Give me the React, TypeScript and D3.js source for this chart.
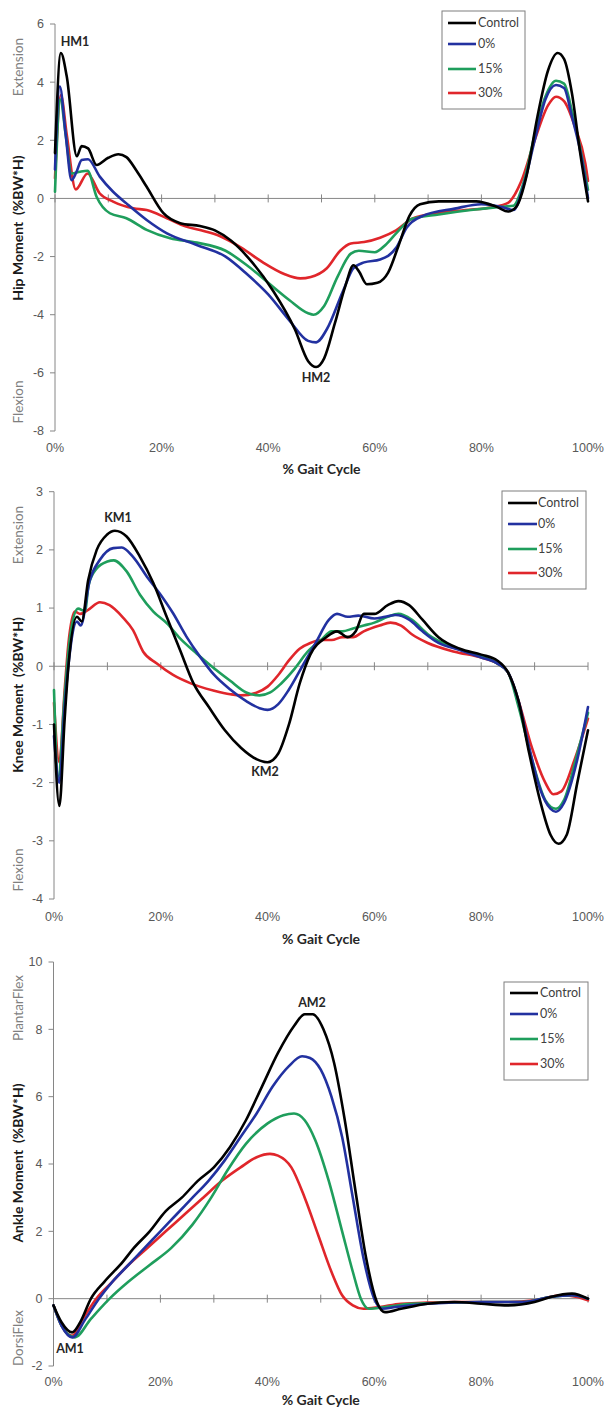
import React from "react";
import * as d3 from "d3";

type P = [number, number];

const seriesNames = ["Control", "0%", "15%", "30%"];
const seriesColors = ["#000000", "#2231a0", "#1f9e5c", "#e0262b"];
const xTickValues = [0, 10, 20, 30, 40, 50, 60, 70, 80, 90, 100];
const xLabelValues = [0, 20, 40, 60, 80, 100];
const hipTicks = [-8, -6, -4, -2, 0, 2, 4, 6];
const kneeTicks = [-4, -3, -2, -1, 0, 1, 2, 3];
const ankleTicks = [-2, 0, 2, 4, 6, 8, 10];

const hipControl: P[] = [[0,1.56],[1.1,5.0],[2.2,4.2],[4.1,1.45],[5.0,1.8],[6.2,1.72],[7.8,1.15],[10,1.4],[11.9,1.52],[13.4,1.42],[15.3,0.95],[17.2,0.4],[20.3,-0.5],[23.5,-0.85],[27.2,-0.95],[30,-1.1],[33,-1.45],[37,-2.2],[41,-3.2],[45,-4.5],[47.5,-5.6],[49,-5.8],[50.5,-5.5],[52.5,-4.3],[54.5,-3.0],[56,-2.3],[57,-2.5],[58.5,-2.95],[60.5,-2.9],[62.5,-2.55],[64.5,-1.6],[66.5,-0.6],[68.5,-0.2],[72,-0.1],[79,-0.1],[83,-0.3],[85,-0.45],[86.5,-0.3],[88.5,0.8],[90.5,2.8],[92.5,4.4],[94.3,5.0],[95.5,4.8],[97,3.6],[98.5,1.6],[100,-0.1]];
const hip0: P[] = [[0,1.0],[0.9,3.85],[2,2.2],[3.1,0.63],[4,0.9],[5.0,1.32],[6.2,1.35],[8.4,0.75],[10.9,0.23],[13.4,-0.17],[17.2,-0.74],[21,-1.2],[26.6,-1.6],[32,-2.0],[36,-2.6],[40,-3.3],[44,-4.2],[47.5,-4.9],[49,-4.95],[51,-4.5],[54,-3.2],[56,-2.4],[58,-2.2],[61,-2.1],[64,-1.7],[66,-1.0],[69,-0.6],[75,-0.35],[80,-0.2],[84,-0.3],[86,-0.4],[88,0.5],[90,2.0],[92,3.4],[94,3.9],[95.5,3.8],[97,2.8],[99,1.2],[100,0]];
const hip15: P[] = [[0,0.23],[1,3.4],[2,2.2],[3.1,0.86],[4.7,0.92],[6.1,0.95],[7.8,0.06],[10.3,-0.51],[13.4,-0.68],[17.2,-1.08],[21.6,-1.37],[26.6,-1.52],[32,-1.8],[36,-2.3],[40,-2.9],[44,-3.5],[47.5,-3.95],[48.5,-4.0],[50.5,-3.7],[53,-2.7],[55.5,-1.9],[57,-1.8],[60,-1.85],[62,-1.6],[64,-1.2],[67,-0.7],[72,-0.55],[78,-0.4],[83,-0.3],[86,-0.25],[88,0.6],[90,2.2],[92,3.5],[94,4.05],[95.5,3.95],[97,3.0],[99,1.3],[100,0.3]];
const hip30: P[] = [[0,0.7],[1.1,3.56],[2.2,2.2],[3.9,0.31],[6.1,0.86],[8.4,0.17],[10.9,-0.11],[14.7,-0.34],[17.2,-0.4],[21,-0.68],[24.6,-0.97],[27.2,-1.09],[31,-1.3],[35,-1.7],[39,-2.2],[43,-2.6],[46,-2.75],[48,-2.7],[51,-2.4],[53.5,-1.8],[55.5,-1.55],[58,-1.5],[61,-1.35],[64,-1.1],[67,-0.7],[72,-0.5],[77,-0.4],[82,-0.3],[85,-0.15],[87.5,0.6],[90,2.0],[92.5,3.2],[94,3.5],[95.5,3.35],[97.5,2.5],[99.5,1.2],[100,0.6]];

const kneeControl: P[] = [[0,-1.0],[1,-2.4],[2,-0.9],[2.7,0],[4.3,0.85],[5.2,0.77],[6.4,1.48],[8,2.0],[9.9,2.26],[11.4,2.33],[13.6,2.23],[16.1,1.88],[18.6,1.43],[21.1,0.85],[23.6,0.28],[26.1,-0.29],[29,-0.7],[32,-1.1],[35,-1.4],[38,-1.6],[40,-1.65],[42,-1.5],[44,-1.0],[46,-0.3],[48,0.2],[51,0.5],[53,0.6],[55,0.5],[56.5,0.6],[58,0.9],[60,0.9],[62.5,1.05],[64.5,1.12],[66.5,1.05],[69,0.8],[72,0.5],[76,0.3],[80,0.2],[83,0.1],[85,-0.1],[87,-0.6],[89,-1.5],[91,-2.3],[93,-2.9],[94.5,-3.05],[96,-2.9],[98,-2.0],[100,-1.1]];
const knee0: P[] = [[0,-1.2],[1,-2.0],[2,-0.7],[2.8,0.1],[4.3,0.77],[5,0.7],[6.7,1.48],[8.6,1.83],[11.1,2.03],[12.7,2.04],[14.8,1.88],[17.4,1.54],[19.8,1.25],[22.3,0.91],[24.8,0.51],[27.3,0.17],[30,-0.15],[33,-0.4],[36,-0.6],[38.5,-0.72],[40,-0.75],[42,-0.65],[44,-0.4],[46.5,0],[49,0.4],[51.5,0.8],[53,0.9],[55,0.85],[57,0.87],[60,0.82],[62,0.85],[64,0.88],[66.5,0.8],[69,0.6],[72,0.4],[76,0.28],[80,0.15],[83,0.05],[85,-0.1],[87,-0.6],[89,-1.4],[91,-2.1],[93,-2.45],[94,-2.5],[95.5,-2.35],[98,-1.6],[100,-0.7]];
const knee15: P[] = [[0,-0.41],[0.8,-1.9],[2,-0.5],[3,0.5],[4.5,0.99],[5.8,0.95],[6.5,1.4],[8,1.68],[10,1.8],[11.2,1.82],[13.6,1.63],[16.1,1.23],[18.6,0.94],[21.1,0.74],[23.6,0.48],[26.7,0.22],[29.5,0],[33,-0.25],[36,-0.45],[38.5,-0.5],[40.5,-0.45],[42.5,-0.3],[45,-0.05],[47.5,0.25],[50,0.45],[52,0.6],[54,0.6],[56,0.65],[58,0.7],[60,0.75],[62.5,0.85],[64.5,0.9],[67,0.8],[70,0.55],[74,0.35],[79,0.2],[83,0.05],[85,-0.1],[87,-0.7],[89.5,-1.6],[92,-2.3],[94,-2.45],[95.5,-2.3],[98,-1.5],[100,-0.8]];
const knee30: P[] = [[0,-0.63],[1,-1.65],[2,-0.4],[2.7,0.39],[3.9,0.94],[4.9,0.9],[6.4,0.97],[8.6,1.1],[10.4,1.05],[12.8,0.85],[14.8,0.62],[16.7,0.25],[19.2,0.05],[22.3,-0.15],[25.5,-0.29],[27.3,-0.35],[30,-0.42],[33,-0.48],[35,-0.5],[38,-0.45],[40,-0.35],[42,-0.15],[44,0.1],[46,0.3],[48,0.4],[50,0.45],[52,0.45],[54,0.5],[56,0.5],[58,0.6],[61,0.7],[63,0.75],[65,0.7],[67,0.55],[70,0.4],[75,0.25],[80,0.15],[83,0.05],[85,-0.1],[87,-0.6],[89.5,-1.4],[92,-2.0],[93.5,-2.2],[95,-2.15],[97.5,-1.6],[100,-0.9]];

const ankleControl: P[] = [[0,-0.2],[1.5,-0.7],[3.5,-1.0],[5,-0.7],[7,0],[9.5,0.5],[13,1.1],[15,1.5],[18,2.0],[21,2.6],[24,3.0],[27,3.5],[30,3.9],[33,4.5],[36,5.3],[39,6.3],[42,7.3],[45,8.1],[47,8.45],[48.5,8.45],[50.5,8.0],[52.5,7.0],[54.5,5.3],[56.5,3.2],[58.5,1.2],[60.5,-0.1],[62,-0.4],[65,-0.3],[70,-0.15],[75,-0.1],[80,-0.15],[85,-0.2],[90,-0.1],[93,0.05],[97,0.15],[100,0]];
const ankle0: P[] = [[0,-0.2],[1.5,-0.8],[3.5,-1.15],[6,-0.6],[8.5,0],[11,0.5],[14,1.0],[17,1.5],[20,2.0],[23,2.5],[26,3.0],[29,3.5],[32,4.1],[35,4.8],[38,5.5],[41,6.3],[44,6.9],[46.5,7.2],[48,7.15],[50,6.8],[52,6.0],[54,4.8],[56,3.0],[58,1.2],[60,0],[61.5,-0.3],[64,-0.25],[70,-0.15],[80,-0.1],[88,-0.1],[93,0.05],[97,0.1],[100,0]];
const ankle15: P[] = [[0,-0.2],[1.5,-0.8],[4,-1.15],[7,-0.6],[10.5,0],[14,0.5],[18,1.0],[22,1.5],[26,2.2],[29.5,3.0],[32.5,3.8],[36,4.6],[40,5.2],[43,5.45],[45,5.5],[47,5.3],[49,4.7],[51.5,3.5],[54,2.0],[56,0.8],[57.5,0],[59,-0.3],[62,-0.25],[67,-0.15],[80,-0.1],[88,-0.1],[93,0.05],[97,0.1],[100,0]];
const ankle30: P[] = [[0,-0.2],[1.5,-0.8],[3.5,-1.1],[5.5,-0.6],[8,0],[11,0.5],[14,1.0],[17.5,1.5],[21,2.0],[24.5,2.5],[28,3.0],[31.5,3.5],[35,3.9],[38,4.2],[40.5,4.3],[42,4.25],[44.5,3.9],[47,3.0],[49.5,1.9],[52,0.8],[54,0.1],[56,-0.2],[58,-0.3],[61,-0.25],[65,-0.15],[75,-0.1],[85,-0.1],[90,-0.05],[95,0.1],[98,0.05],[100,-0.05]];

interface Panel {
  title: string;
  top: string;
  bottom: string;
  ticks: number[];
  series: P[][];
  x0: number; x1: number; yTop: number; yBot: number;
  tickLabelY: number; titleY: number;
  topLabelY: number; bottomLabelY: number; titleLabelY: number;
  legend: { x: number; y: number; w: number; h: number; items: number[]; lx0: number; lx1: number; tx: number };
  notes: { t: string; x: number; y: number }[];
}

const panels: Panel[] = [
  {
    title: "Hip Moment  (%BW*H)", top: "Extension", bottom: "Flexion", ticks: hipTicks,
    series: [hipControl, hip0, hip15, hip30],
    x0: 55, x1: 588, yTop: 24, yBot: 431, tickLabelY: 448, titleY: 469,
    topLabelY: 67, bottomLabelY: 402, titleLabelY: 228,
    legend: { x: 442, y: 11, w: 83, h: 98, items: [23, 44, 69, 93], lx0: 448, lx1: 476, tx: 478 },
    notes: [{ t: "HM1", x: 75, y: 42 }, { t: "HM2", x: 316, y: 378 }],
  },
  {
    title: "Knee Moment  (%BW*H)", top: "Extension", bottom: "Flexion", ticks: kneeTicks,
    series: [kneeControl, knee0, knee15, knee30],
    x0: 54, x1: 588, yTop: 491.7, yBot: 899, tickLabelY: 917, titleY: 939,
    topLabelY: 535, bottomLabelY: 870, titleLabelY: 695,
    legend: { x: 502, y: 491, w: 84, h: 98, items: [503, 524, 549, 573], lx0: 508, lx1: 537, tx: 538 },
    notes: [{ t: "KM1", x: 118, y: 518 }, { t: "KM2", x: 265, y: 772 }],
  },
  {
    title: "Ankle Moment  (%BW*H)", top: "PlantarFlex", bottom: "DorsiFlex", ticks: ankleTicks,
    series: [ankleControl, ankle0, ankle15, ankle30],
    x0: 53.5, x1: 588, yTop: 962, yBot: 1366, tickLabelY: 1382, titleY: 1400,
    topLabelY: 1008, bottomLabelY: 1338, titleLabelY: 1163,
    legend: { x: 504, y: 982, w: 84, h: 98, items: [993, 1014, 1039, 1064], lx0: 510, lx1: 538, tx: 540 },
    notes: [{ t: "AM2", x: 312, y: 1003 }, { t: "AM1", x: 70, y: 1349 }],
  },
];

const AXIS = "#868686";
const TXT = "#595959";

function PanelView({ p }: { p: Panel }) {
  const x = d3.scaleLinear().domain([0, 100]).range([p.x0, p.x1]);
  const y = d3.scaleLinear().domain([p.ticks[0], p.ticks[p.ticks.length - 1]]).range([p.yBot, p.yTop]);
  const line = d3.line<P>().x((d) => x(d[0])).y((d) => y(d[1])).curve(d3.curveMonotoneX);
  const order = [3, 2, 1, 0];
  const y0 = y(0);
  return (
    <g>
      <line x1={p.x0} x2={p.x0} y1={p.yTop} y2={p.yBot} stroke={AXIS} strokeWidth={1} />
      {p.ticks.map((t) => (
        <g key={t}>
          <line x1={p.x0 - 5} x2={p.x0} y1={y(t)} y2={y(t)} stroke={AXIS} />
          <text x={p.x0 - 11} y={y(t)} dy="0.35em" textAnchor="end" fontSize={12.5} fill={TXT} fontFamily="Liberation Sans, Arial, sans-serif">{t}</text>
        </g>
      ))}
      <line x1={p.x0} x2={p.x1} y1={y0} y2={y0} stroke={AXIS} strokeWidth={1} />
      {xTickValues.map((t) => (
        <line key={t} x1={x(t)} x2={x(t)} y1={y0 - 4} y2={y0 + 4} stroke={AXIS} />
      ))}
      {xLabelValues.map((t) => (
        <text key={t} x={x(t)} y={p.tickLabelY} dy="0.35em" textAnchor="middle" fontSize={12.5} fill={TXT} fontFamily="Liberation Sans, Arial, sans-serif">{t + "%"}</text>
      ))}
      <text x={(p.x0 + p.x1) / 2} y={p.titleY} dy="0.35em" textAnchor="middle" fontSize={14} fontWeight="bold" fill="#262626" fontFamily="Lato, Open Sans, sans-serif">% Gait Cycle</text>
      <text transform={`translate(18,${p.topLabelY}) rotate(-90)`} dy="0.35em" textAnchor="middle" fontSize={13.5} fill="#7f7f7f" fontFamily="Lato, Open Sans, sans-serif">{p.top}</text>
      <text transform={`translate(18,${p.bottomLabelY}) rotate(-90)`} dy="0.35em" textAnchor="middle" fontSize={13.5} fill="#7f7f7f" fontFamily="Lato, Open Sans, sans-serif">{p.bottom}</text>
      <text transform={`translate(18,${p.titleLabelY}) rotate(-90)`} dy="0.35em" textAnchor="middle" fontSize={14} fontWeight="bold" fill="#1a1a1a" fontFamily="Lato, Open Sans, sans-serif" style={{ whiteSpace: "pre" }}>{p.title}</text>
      {order.map((i) => (
        <path key={i} d={line(p.series[i]) || ""} fill="none" stroke={seriesColors[i]} strokeWidth={2.6} strokeLinejoin="round" strokeLinecap="round" />
      ))}
      {p.notes.map((n) => (
        <text key={n.t} x={n.x} y={n.y} dy="0.35em" textAnchor="middle" fontSize={12.5} fontWeight="bold" fill="#262626" fontFamily="Lato, Open Sans, sans-serif">{n.t}</text>
      ))}
      <rect x={p.legend.x} y={p.legend.y} width={p.legend.w} height={p.legend.h} fill="white" stroke="#7f7f7f" strokeWidth={1} />
      {seriesNames.map((s, i) => (
        <g key={s}>
          <line x1={p.legend.lx0} x2={p.legend.lx1} y1={p.legend.items[i]} y2={p.legend.items[i]} stroke={seriesColors[i]} strokeWidth={2.6} />
          <text x={p.legend.tx} y={p.legend.items[i]} dy="0.35em" fontSize={12.5} fill="#404040" fontFamily="Lato, Open Sans, sans-serif">{s}</text>
        </g>
      ))}
    </g>
  );
}

export default function App() {
  return (
    <svg width={606} height={1410} style={{ position: "absolute", left: 0, top: 0, background: "white" }}>
      <rect width={606} height={1410} fill="white" />
      {panels.map((p) => (
        <PanelView key={p.title} p={p} />
      ))}
    </svg>
  );
}
